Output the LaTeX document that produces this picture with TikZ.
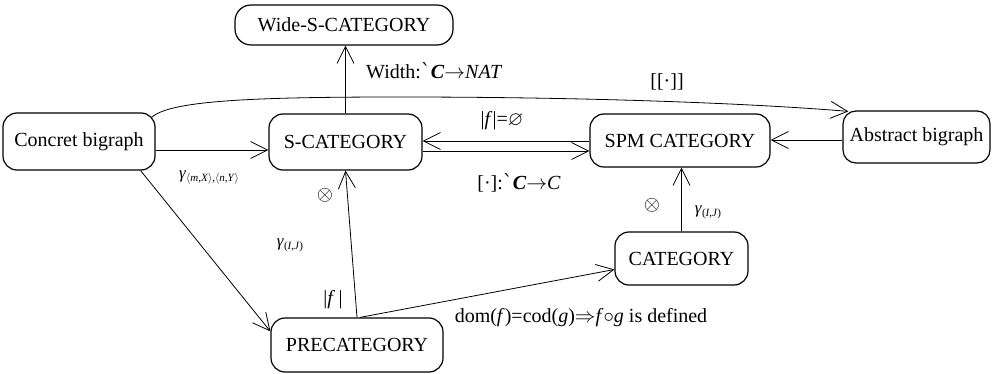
\documentclass[tikz,border=0pt]{standalone}
\usepackage{amssymb}
\usepackage{fontspec}
\setmainfont{Liberation Serif}
\newfontfamily\dvserif{DejaVu Serif}
\usetikzlibrary{arrows.meta}
\tikzset{
  box/.style={draw, line width=1.2pt, rounded corners=14pt, inner sep=0pt, font=\fontsize{20}{22}\selectfont},
  arr/.style={draw, line width=0.8pt, -{Straight Barb[length=17pt,width=17pt,line width=0.8pt]}},
  lab/.style={inner sep=0pt, font=\fontsize{20}{22}\selectfont},
  glab/.style={inner sep=0pt, font=\fontsize{17}{18}\selectfont}
}
\newcommand{\sbx}[1]{\raisebox{-3pt}{\fontsize{11}{12}\selectfont #1}}
\newcommand{\grv}{{\dvserif ˋ}}
\begin{document}
\begin{tikzpicture}[x=1pt,y=-1pt]
\useasboundingbox (0,0) rectangle (992,374);
% nodes
\node[box, minimum width=218pt, minimum height=40pt, rounded corners=16pt] (wide) at (344,25) {Wide-S-CATEGORY};
\node[box, minimum width=152pt, minimum height=57pt] (concret) at (79,141.5) {Concret bigraph};
\node[box, minimum width=153pt, minimum height=56pt] (scat) at (345.5,142) {S-CATEGORY};
\node[box, minimum width=180pt, minimum height=53pt] (spm) at (680,140.5) {SPM CATEGORY};
\node[box, minimum width=147pt, minimum height=52pt, rounded corners=13pt] (abs) at (916.5,137) {Abstract bigraph};
\node[box, minimum width=172pt, minimum height=54pt] (pre) at (357,345) {PRECATEGORY};
\node[box, minimum width=133pt, minimum height=53pt] (cat) at (681.5,258.5) {CATEGORY};
% edges
\draw[arr] (scat.north) -- (scat.north |- wide.south);
\draw[arr] ([yshift=-8.5pt]concret.east) -- ([yshift=-8pt]scat.west);
\draw[arr] ([yshift=-0.5pt]spm.west) -- ([yshift=1pt]scat.east);
\draw[arr] ([yshift=-9pt]scat.east) -- ([yshift=-10.5pt]spm.west);
\draw[arr] ([yshift=-3pt]abs.west) -- ([yshift=0.5pt]spm.east);
\draw[arr] ([xshift=-4pt,yshift=-5pt]concret.north east) .. controls (170,100) and (260,97) .. (400,97) .. controls (600,97) and (760,104) .. ([xshift=6pt,yshift=-1pt]abs.north west);
\draw[arr] ([xshift=-15pt]concret.south east) -- ([yshift=-14pt]pre.north west);
\draw[arr] (pre.north) -- (scat.south);
\draw[arr] ([xshift=3pt]pre.north) -- ([yshift=-11pt]cat.west);
\draw[arr] (cat.north) -- (cat.north |- spm.south);
% labels
\node[lab, anchor=west] (lwidth) at (366,71) {Width:\grv\textbf{\textit{C}}$\rightarrow$\textit{NAT}};
\node[lab] (lsem) at (667,82) {[[·]]};
\node[lab] (lempty) at (502,121) {|\textit{f}|=$\varnothing$};
\node[lab] (lbr) at (519,183) {[·]:\grv\textbf{\textit{C}}$\rightarrow$\textit{C}};
\node[glab] (lg1) at (209,177) {\textit{γ}\sbx{$\langle$\textit{m},\textit{X}$\rangle$,$\langle$\textit{n},\textit{Y}$\rangle$}};
\node[lab] (lot1) at (325,195) {$\otimes$};
\node[glab] (lg2) at (290,245) {\textit{γ}\sbx{(\textit{I},\textit{J})}};
\node[lab] (lf) at (333,300) {|\textit{f}\,|};
\node[lab] (lot2) at (652,205) {$\otimes$};
\node[glab] (lg3) at (708,212) {\textit{γ}\sbx{(\textit{I},\textit{J})}};
\node[lab] (ldom) at (581,318) {dom(\textit{f})=cod(\textit{g})$\Rightarrow$\textit{f}$\circ$\textit{g} is defined};
\end{tikzpicture}
\end{document}
